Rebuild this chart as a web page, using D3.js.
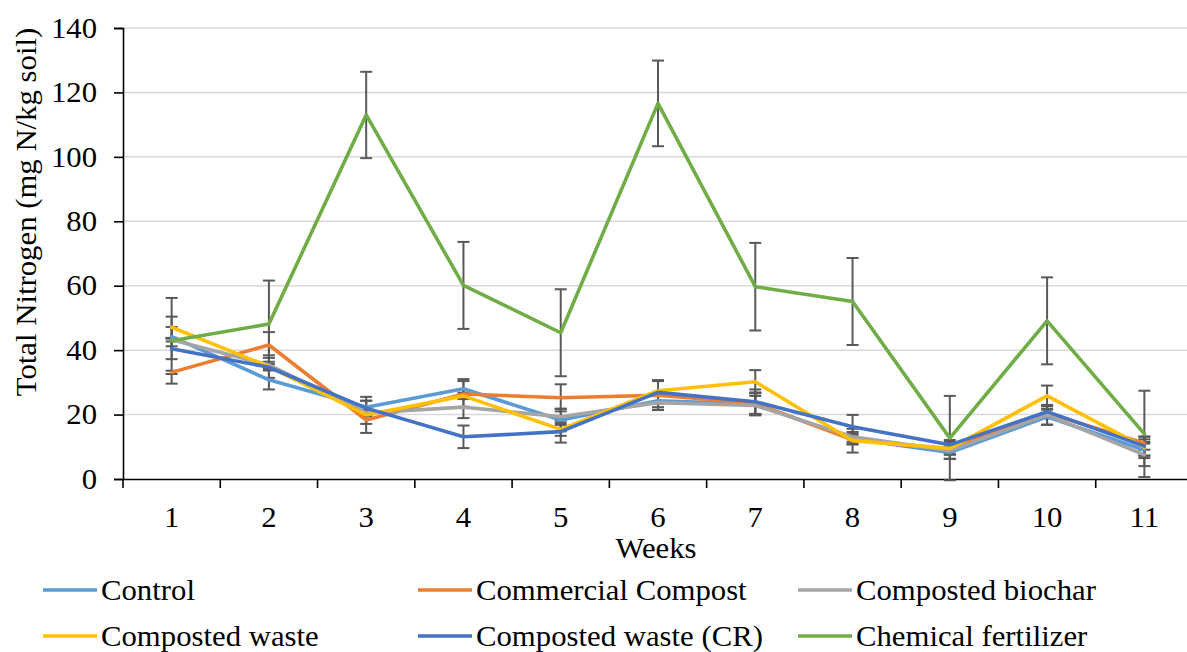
<!DOCTYPE html>
<html>
<head>
<meta charset="utf-8">
<script src="https://cdn.jsdelivr.net/npm/d3@7"></script>
<style>
  html, body { margin: 0; padding: 0; background: #fff; }
  svg { display: block; }
</style>
</head>
<body>
<svg id="chart" width="1187" height="652"></svg>
<script>
// Weekly total nitrogen by treatment (mean ± error)
const weeks = [1, 2, 3, 4, 5, 6, 7, 8, 9, 10, 11];
const yTicks = [0, 20, 40, 60, 80, 100, 120, 140];

const seriesNames = ["Control", "Commercial Compost", "Composted biochar",
                     "Composted waste", "Composted waste (CR)", "Chemical fertilizer"];
const seriesColors = ["#5B9BD5", "#ED7D31", "#A5A5A5", "#FFC000", "#4472C4", "#70AD47"];

const control       = [44.2, 30.8, 22.3, 28.0, 18.3, 24.3, 23.3, 12.5, 8.2, 19.3, 9.0];
const commercial    = [33.1, 41.6, 18.3, 26.4, 25.2, 26.0, 23.5, 12.2, 9.3, 20.5, 11.1];
const biochar       = [43.2, 35.4, 20.5, 22.3, 19.3, 23.7, 22.8, 13.1, 8.8, 19.9, 7.5];
const waste         = [47.1, 34.9, 19.9, 25.8, 15.4, 27.4, 30.2, 11.9, 9.5, 25.8, 9.8];
const wasteCR       = [40.4, 34.7, 22.0, 13.1, 14.7, 26.9, 24.0, 16.2, 10.6, 20.9, 10.2];
const chemical      = [42.9, 48.1, 113.0, 60.1, 45.4, 116.6, 59.7, 55.1, 12.7, 49.1, 14.0];

const controlErr    = [3.0, 3.0, 2.0, 3.0, 3.5, 2.0, 3.5, 1.5, 2.0, 2.5, 2.5];
const commercialErr = [0.5, 4.0, 1.2, 4.0, 4.2, 4.5, 3.3, 1.5, 1.5, 1.0, 2.0];
const biocharErr    = [0.5, 1.0, 1.0, 3.4, 2.5, 2.3, 3.0, 1.5, 2.5, 3.0, 3.5];
const wasteErr      = [3.3, 3.5, 5.6, 1.0, 2.0, 3.3, 3.6, 3.7, 2.0, 3.2, 2.5];
const wasteCRErr    = [3.2, 1.0, 2.3, 3.5, 3.4, 3.5, 3.8, 3.7, 1.5, 2.1, 3.0];
const chemicalErr   = [13.3, 13.5, 13.4, 13.5, 13.5, 13.3, 13.6, 13.5, 13.1, 13.5, 13.4];

const seriesValues = [control, commercial, biochar, waste, wasteCR, chemical];
const seriesErrors = [controlErr, commercialErr, biocharErr, wasteErr, wasteCRErr, chemicalErr];

const FONT = "'Liberation Serif', 'DejaVu Serif', serif";
const FS = "29px";
const WIDEN = 1.06;   // slightly wider setting of the serif face

const svg = d3.select("#chart");
const plot = { left: 123, right: 1193, top: 28, bottom: 479 };

const x = d3.scaleBand().domain(weeks).range([plot.left, plot.right]).padding(0);
const cx = d => x(d) + x.bandwidth() / 2;
const y = d3.scaleLinear().domain([0, 140]).range([plot.bottom, plot.top]);

// horizontal gridlines
svg.append("g").selectAll("line")
  .data(yTicks.filter(t => t > 0))
  .join("line")
  .attr("x1", plot.left).attr("x2", 1187)
  .attr("y1", d => y(d)).attr("y2", d => y(d))
  .attr("stroke", "#D9D9D9").attr("stroke-width", 1.5);

// y axis
const yAxis = svg.append("g")
  .attr("transform", `translate(${plot.left},0)`)
  .call(d3.axisLeft(y).tickValues(yTicks).tickSize(9).tickPadding(17));
yAxis.select(".domain").attr("stroke", "#000").attr("stroke-width", 1.6);
yAxis.selectAll(".tick line").attr("stroke", "#000").attr("stroke-width", 1.6);
yAxis.selectAll(".tick text")
  .style("font-family", FONT).style("font-size", FS).attr("fill", "#000");

// x axis: labels at category centres, tick marks at category boundaries
const xAxis = svg.append("g")
  .attr("transform", `translate(0,${plot.bottom})`)
  .call(d3.axisBottom(x).tickSize(0).tickPadding(27));
xAxis.select(".domain").attr("stroke", "#000").attr("stroke-width", 1.6);
xAxis.selectAll(".tick text")
  .style("font-family", FONT).style("font-size", FS).attr("fill", "#000");
const boundaries = weeks.map(w => x(w)).concat([x(weeks[weeks.length - 1]) + x.bandwidth()]);
xAxis.append("g").selectAll("line")
  .data(boundaries)
  .join("line")
  .attr("x1", d => d).attr("x2", d => d)
  .attr("y1", 0).attr("y2", 9)
  .attr("stroke", "#000").attr("stroke-width", 1.6);

// axis titles
svg.append("text")
  .attr("transform", "translate(36,212) rotate(-90)")
  .attr("text-anchor", "middle")
  .style("font-family", FONT).style("font-size", FS)
  .text("Total Nitrogen (mg N/kg soil)");
svg.append("text")
  .attr("x", 656).attr("y", 558)
  .attr("text-anchor", "middle")
  .style("font-family", FONT).style("font-size", FS)
  .text("Weeks");

// error bars
const errG = svg.append("g");
seriesValues.forEach((vals, si) => {
  const errs = seriesErrors[si];
  const g = errG.append("g").attr("stroke", "#595959").attr("stroke-width", 2);
  weeks.forEach((w, i) => {
    const lo = y(vals[i] - errs[i]), hi = y(vals[i] + errs[i]);
    const px = cx(w);
    g.append("line").attr("x1", px).attr("x2", px).attr("y1", lo).attr("y2", hi);
    g.append("line").attr("x1", px - 6).attr("x2", px + 6).attr("y1", lo).attr("y2", lo);
    g.append("line").attr("x1", px - 6).attr("x2", px + 6).attr("y1", hi).attr("y2", hi);
  });
});

// series lines
const line = d3.line().x((d, i) => cx(weeks[i])).y(d => y(d));
seriesValues.forEach((vals, si) => {
  svg.append("path")
    .datum(vals)
    .attr("d", line)
    .attr("fill", "none")
    .attr("stroke", seriesColors[si])
    .attr("stroke-width", 3.6)
    .attr("stroke-linejoin", "round")
    .attr("stroke-linecap", "round");
});

// legend
const legendCols = [43, 418, 798];
const legendRows = [590, 636];
seriesNames.forEach((name, i) => {
  const lx = legendCols[i % 3], ly = legendRows[Math.floor(i / 3)];
  const g = svg.append("g").attr("transform", `translate(${lx},${ly})`);
  g.append("line").attr("x1", 0).attr("x2", 54).attr("y1", 0).attr("y2", 0)
    .attr("stroke", seriesColors[i]).attr("stroke-width", 3.6);
  g.append("text").attr("x", 58).attr("y", 10)
    .style("font-family", FONT).style("font-size", FS).text(name);
});

// set all text slightly wider
svg.selectAll("text").each(function () {
  const len = this.getComputedTextLength();
  d3.select(this)
    .attr("textLength", len * WIDEN)
    .attr("lengthAdjust", "spacingAndGlyphs");
});
</script>
</body>
</html>
